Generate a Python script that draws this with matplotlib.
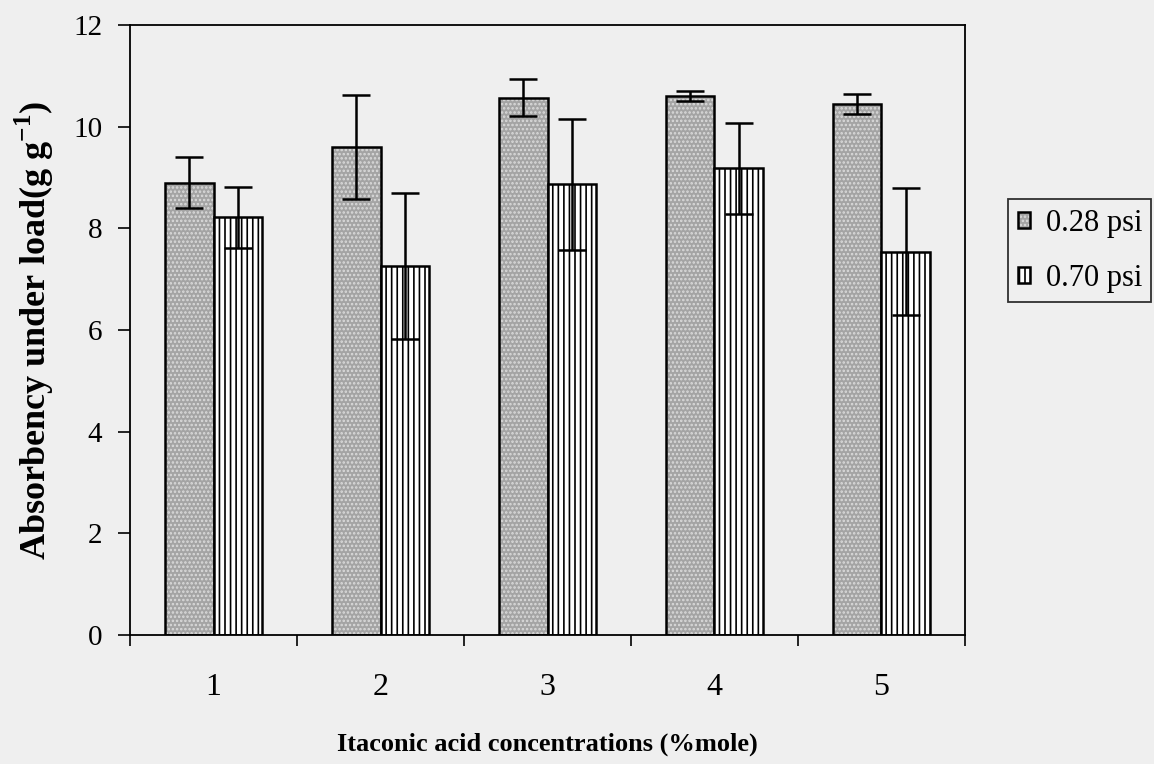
import numpy as np
from matplotlib import pyplot as plt

plt.rcParams["font.family"] = ["Liberation Serif", "DejaVu Serif"]
plt.rcParams["mathtext.fontset"] = "custom"
plt.rcParams["mathtext.rm"] = "Liberation Serif"
plt.rcParams["mathtext.bf"] = "Liberation Serif:bold"
plt.rcParams["hatch.linewidth"] = 1.2

# AUL at two loads vs itaconic acid content
concentrations = ["1", "2", "3", "4", "5"]
aul_028 = [8.90, 9.60, 10.57, 10.60, 10.44]
err_028 = [0.50, 1.03, 0.36, 0.10, 0.20]
aul_070 = [8.22, 7.26, 8.87, 9.18, 7.54]
err_070 = [0.60, 1.44, 1.29, 0.89, 1.25]

bg = "#efefef"
fig = plt.figure(figsize=(11.54, 7.64), dpi=100, facecolor=bg)
ax = fig.add_axes([0.1127, 0.1688, 0.7235, 0.7985], facecolor=bg)

x = np.arange(1, len(concentrations) + 1)
w = 0.29

err_kw = dict(ecolor="black", elinewidth=1.8, capsize=10, capthick=1.8)

b1 = ax.bar(x - w / 2, aul_028, w, yerr=err_028, color="#a4a4a4",
            edgecolor="black", linewidth=1.8, hatch="....",
            error_kw=err_kw, label="0.28 psi", zorder=2)
for p in b1:
    p._hatch_color = (0.86, 0.86, 0.86, 1.0)
b2 = ax.bar(x + w / 2, aul_070, w, yerr=err_070, color="white",
            edgecolor="black", linewidth=1.8, hatch="|||",
            error_kw=err_kw, label="0.70 psi", zorder=2)

ax.set_xlim(0.5, 5.5)
ax.set_ylim(0, 12)
ax.set_yticks(np.arange(0, 13, 2))

# ticks sit on the category boundaries, labels in the middle
ax.set_xticks(np.arange(0.5, 6, 1))
ax.set_xticklabels([])
ax.set_xticks(x, minor=True)
ax.set_xticklabels(concentrations, minor=True)
ax.tick_params(axis="x", which="major", direction="out", length=8, width=1.2)
ax.tick_params(axis="x", which="minor", length=0, pad=27, labelsize=23)
ax.tick_params(axis="y", direction="out", length=9, width=1.2, labelsize=21, pad=11)

for s in ax.spines.values():
    s.set_linewidth(1.3)

ax.set_xlabel("Itaconic acid concentrations (%mole)", fontsize=19,
              fontweight="bold", labelpad=22)
ax.set_ylabel(r"Absorbency under load(g g$^{\mathbf{-1}}$)", fontsize=26,
              fontweight="bold", labelpad=12)

leg = ax.legend(loc="upper left", bbox_to_anchor=(1.052, 0.714), fontsize=22,
                frameon=True, fancybox=False, edgecolor="black",
                handlelength=0.42, handleheight=0.42, handletextpad=0.5,
                borderpad=0.3, labelspacing=0.85, borderaxespad=0)
leg.get_frame().set_facecolor(bg)
leg.get_frame().set_linewidth(1.3)

fig.savefig("out.png", dpi=100, facecolor=bg)
